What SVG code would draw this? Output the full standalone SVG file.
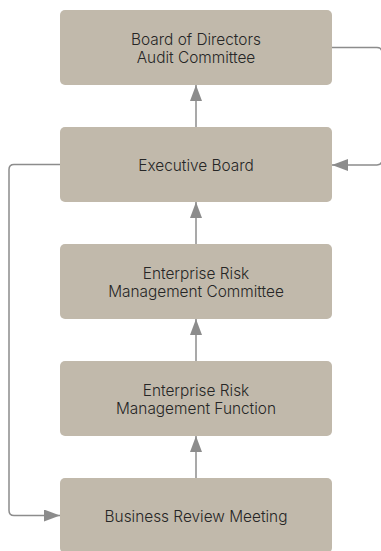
<svg xmlns="http://www.w3.org/2000/svg" width="381" height="551" viewBox="0 0 381 551">
<style>
.box{fill:#c1b9ab;}
.t{font-family:Inter,"Noto Sans",sans-serif;font-size:15.4px;font-weight:350;fill:#262626;text-anchor:middle;}
.c{fill:none;stroke:#8c8c8c;stroke-width:1.5;}
</style>
<defs>
<marker id="ah" viewBox="0 0 16 12" refX="16" refY="6" markerWidth="16" markerHeight="12" markerUnits="userSpaceOnUse" orient="auto">
<path d="M0,0 L16,6 L0,12 Z" fill="#8c8c8c"/>
</marker>
</defs>
<rect width="381" height="551" fill="#ffffff"/>
<g id="connectors">
<path class="c" d="M196,127 V85" marker-end="url(#ah)"/>
<path class="c" d="M196,244 V202" marker-end="url(#ah)"/>
<path class="c" d="M196,361 V319" marker-end="url(#ah)"/>
<path class="c" d="M196,478 V436" marker-end="url(#ah)"/>
<path class="c" d="M332,47.5 H377 Q382,47.5 382,52.5 V160 Q382,165 377,165 H332" marker-end="url(#ah)"/>
<path class="c" d="M60,164.5 H14 Q9,164.5 9,169.5 V510.5 Q9,515.5 14,515.5 H60" marker-end="url(#ah)"/>
</g>
<g id="board">
<rect class="box" x="60" y="10" width="272" height="75" rx="5"/>
<text class="t" x="196" y="45">Board of Directors</text>
<text class="t" x="196" y="63">Audit Committee</text>
</g>
<g id="executive">
<rect class="box" x="60" y="127" width="272" height="75" rx="5"/>
<text class="t" x="196" y="171">Executive Board</text>
</g>
<g id="ermc">
<rect class="box" x="60" y="244" width="272" height="75" rx="5"/>
<text class="t" x="196" y="279">Enterprise Risk</text>
<text class="t" x="196" y="297">Management Committee</text>
</g>
<g id="ermf">
<rect class="box" x="60" y="361" width="272" height="75" rx="5"/>
<text class="t" x="196" y="396">Enterprise Risk</text>
<text class="t" x="196" y="414">Management Function</text>
</g>
<g id="brm">
<rect class="box" x="60" y="478" width="272" height="75" rx="5"/>
<text class="t" x="196" y="522">Business Review Meeting</text>
</g>
</svg>
